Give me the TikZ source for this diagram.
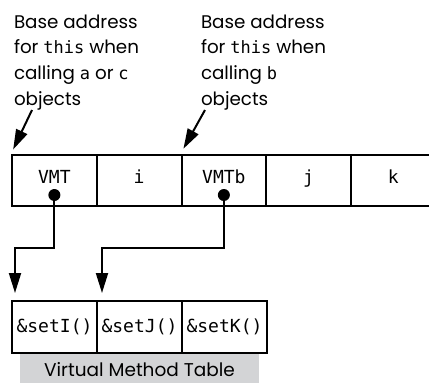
\documentclass[tikz,border=0pt]{standalone}
\usepackage{fontspec}
\setmainfont{Poppins}
\setmonofont{DejaVu Sans Mono}
\usetikzlibrary{arrows.meta}
\definecolor{tblgray}{RGB}{211,212,214}
\newcommand\mtt[1]{{\ttfamily\fontsize{17}{25.7}\selectfont #1}}
\begin{document}
\begin{tikzpicture}[x=1pt,y=-1pt,line width=2pt,
  cell/.style={draw, minimum width=84.75pt, minimum height=51pt, inner sep=0pt,
    font=\ttfamily\fontsize{18}{18}\selectfont, text height=13.1pt, text depth=7pt},
  tcell/.style={draw, minimum width=85pt, minimum height=52pt, inner sep=0pt,
    font=\ttfamily\fontsize{18}{18}\selectfont},
  lbl/.style={anchor=north west, inner sep=0pt, align=left,
    font=\fontsize{18.3}{25.7}\selectfont},
  dotnode/.style={circle, fill=black, inner sep=0pt, minimum size=12pt},
  bigarrow/.style={-{Triangle[length=20pt,width=12pt]}},
  conn/.style={bigarrow, line join=miter}]
\useasboundingbox (0,0) rectangle (429,383);
\clip (0,0) rectangle (429,383);
% labels
\node[lbl] (lab1) at (13,13.5) {Base address\\for \mtt{this} when\\calling \mtt{a} or \mtt{c}\\objects};
\node[lbl] (lab2) at (200,13.5) {Base address\\for \mtt{this} when\\calling \mtt{b}\\objects};
% object layout
\node[cell] (c1) at (54.375,180.5) {VMT};
\node[cell] (c2) at (139.125,180.5) {i};
\node[cell] (c3) at (223.875,180.5) {VMTb};
\node[cell] (c4) at (308.625,180.5) {j};
\node[cell] (c5) at (393.375,180.5) {k};
% table
\node[fill=tblgray, minimum width=239pt, minimum height=31pt, inner sep=0pt, anchor=north west,
  font=\fontsize{18.5}{18.5}\selectfont] (cap) at (19,353) {Virtual Method Table};
\node[tcell] (m1) at (54.5,327) {\&setI()};
\node[tcell] (m2) at (139.5,327) {\&setJ()};
\node[tcell] (m3) at (224.5,327) {\&setK()};
% label arrows
\coordinate (a1s) at (32,110);
\coordinate (a2s) at (205,110);
\draw[bigarrow, shorten >=5pt] (a1s) -- (c1.north west);
\draw[bigarrow, shorten >=6pt] (a2s) -- (c3.north west);
% dots and connectors
\coordinate (r1) at (0,195);
\coordinate (k1) at (15,248);
\coordinate (k2) at (102,248);
\node[dotnode] (d1) at (c1 |- r1) {};
\node[dotnode] (d2) at (c3 |- r1) {};
\draw[conn, shorten >=7pt] (d1.center) |- (k1) -- (k1 |- m1.north);
\draw[conn, shorten >=7pt] (d2.center) |- (k2) -- (k2 |- m2.north);
\end{tikzpicture}
\end{document}
